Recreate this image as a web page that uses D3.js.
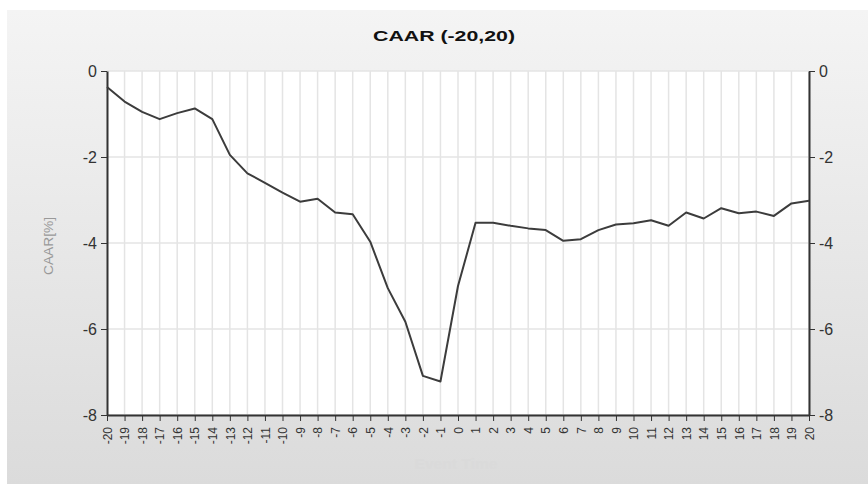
<!DOCTYPE html>
<html>
<head>
<meta charset="utf-8">
<script src="https://cdn.jsdelivr.net/npm/d3@7"></script>
<style>
  body { margin: 0; background: #fff; }
  svg { display: block; font-family: "Liberation Sans", Arial, sans-serif; }
  .grid line { stroke: #e4e4e4; stroke-width: 1.5; }
  .axis path, .axis line { stroke: #333; }
  .axis path { stroke-width: 2; }
  .axis text { fill: #333; }
</style>
</head>
<body>
<div id="chart"></div>
<script>
// Event days and CAAR values (%)
const eventDays = d3.range(-20, 21);
const caarValues = [
  -0.37, -0.71, -0.95, -1.12, -0.98, -0.87, -1.12, -1.95, -2.38, -2.60,
  -2.83, -3.04, -2.97, -3.29, -3.33, -3.97, -5.05, -5.83, -7.09, -7.22,
  -5.00, -3.53, -3.53, -3.60, -3.66, -3.70, -3.95, -3.91, -3.70, -3.57,
  -3.54, -3.47, -3.60, -3.29, -3.43, -3.19, -3.31, -3.27, -3.37, -3.08,
  -3.02
];
const yTicks = [0, -2, -4, -6, -8];

const W = 868, H = 485;
const margin = { top: 71, right: 60, bottom: 70, left: 107 };

const svg = d3.select('#chart')
  .append('svg')
  .attr('width', W)
  .attr('height', H);

// background panel gradient
const grad = svg.append('defs').append('linearGradient')
  .attr('id', 'bg').attr('x1', 0).attr('y1', 0).attr('x2', 0).attr('y2', 1);
grad.append('stop').attr('offset', '0%').attr('stop-color', '#f4f4f4');
grad.append('stop').attr('offset', '100%').attr('stop-color', '#dbdbdb');

svg.append('rect')
  .attr('x', 7).attr('y', 10)
  .attr('width', W - 7).attr('height', H - 11)
  .attr('fill', 'url(#bg)');

const x = d3.scalePoint()
  .domain(eventDays)
  .range([margin.left, W - margin.right + 1]);

const y = d3.scaleLinear()
  .domain([-8, 0])
  .range([H - margin.bottom, margin.top]);

// plot area
svg.append('rect')
  .attr('x', x(-20)).attr('y', y(0))
  .attr('width', x(20) - x(-20)).attr('height', y(-8) - y(0))
  .attr('fill', '#fff');

// grid
svg.append('g')
  .attr('class', 'grid')
  .selectAll('line')
  .data(eventDays)
  .join('line')
  .attr('x1', d => x(d)).attr('x2', d => x(d))
  .attr('y1', y(0)).attr('y2', y(-8));

svg.append('g')
  .attr('class', 'grid')
  .selectAll('line')
  .data(yTicks)
  .join('line')
  .attr('x1', x(-20)).attr('x2', x(20))
  .attr('y1', d => y(d)).attr('y2', d => y(d));

// plain hyphen labels like the original
const fmt = d => String(d);

// left axis
svg.append('g')
  .attr('class', 'axis')
  .attr('transform', `translate(${x(-20)},0)`)
  .call(d3.axisLeft(y).tickValues(yTicks).tickFormat(fmt).tickSize(6).tickSizeOuter(0).tickPadding(4))
  .selectAll('text').style('font-size', '16px');

// right axis
svg.append('g')
  .attr('class', 'axis')
  .attr('transform', `translate(${x(20)},0)`)
  .call(d3.axisRight(y).tickValues(yTicks).tickFormat(fmt).tickSize(6).tickSizeOuter(0).tickPadding(4))
  .selectAll('text').style('font-size', '16px');

// bottom axis
svg.append('g')
  .attr('class', 'axis')
  .attr('transform', `translate(0,${y(-8)})`)
  .call(d3.axisBottom(x).tickFormat(fmt).tickSize(6).tickSizeOuter(0).tickPadding(4))
  .selectAll('text')
  .style('font-size', '12px')
  .attr('transform', 'rotate(-90)')
  .attr('x', -12)
  .attr('y', 0)
  .attr('dy', '0.35em')
  .style('text-anchor', 'end');

// line
const line = d3.line()
  .x((d, i) => x(eventDays[i]))
  .y(d => y(d));

svg.append('path')
  .datum(caarValues)
  .attr('fill', 'none')
  .attr('stroke', '#3c3c3c')
  .attr('stroke-width', 2)
  .attr('stroke-linejoin', 'round')
  .attr('d', line);

// title
svg.append('text')
  .attr('x', 444).attr('y', 41)
  .attr('text-anchor', 'middle')
  .attr('textLength', 142)
  .attr('lengthAdjust', 'spacingAndGlyphs')
  .style('font-size', '15px')
  .style('font-weight', 'bold')
  .style('fill', '#111')
  .text('CAAR (-20,20)');

// y axis label
svg.append('text')
  .attr('transform', 'translate(53,246) rotate(-90)')
  .attr('text-anchor', 'middle')
  .attr('textLength', 58)
  .attr('lengthAdjust', 'spacingAndGlyphs')
  .style('font-size', '12px')
  .style('fill', '#999')
  .text('CAAR[%]');

// x axis label (very faint)
svg.append('text')
  .attr('x', 456).attr('y', 469)
  .attr('text-anchor', 'middle')
  .attr('textLength', 83)
  .attr('lengthAdjust', 'spacingAndGlyphs')
  .style('font-size', '15px')
  .style('font-weight', 'bold')
  .style('fill', '#dadada')
  .text('Event Time');
</script>
</body>
</html>
